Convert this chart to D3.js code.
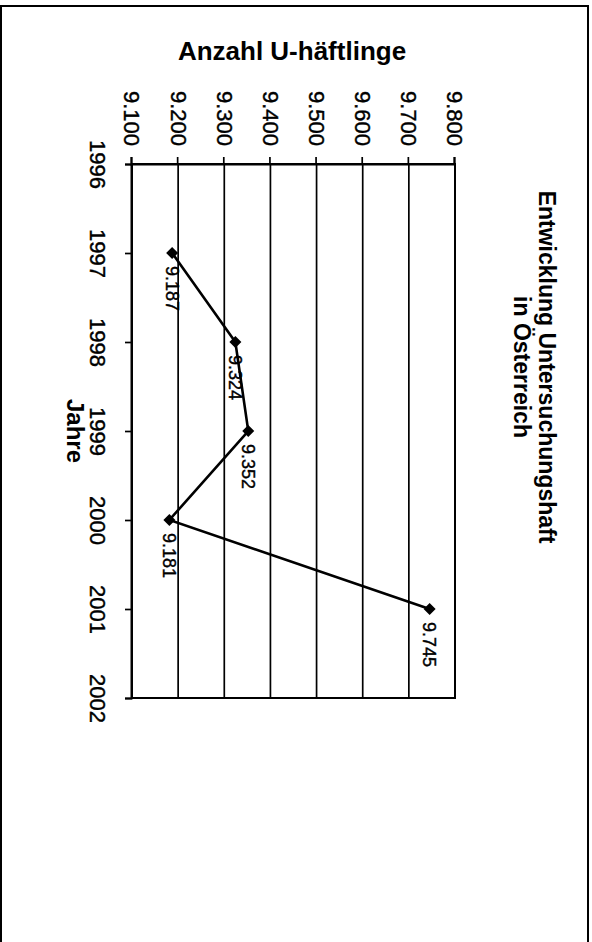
<!DOCTYPE html>
<html>
<head>
<meta charset="utf-8">
<script src="https://cdn.jsdelivr.net/npm/d3@7"></script>
<style>
  body { margin: 0; background: #fff; }
  svg { display: block; font-family: "Liberation Sans", Arial, sans-serif; }
</style>
</head>
<body>
<svg id="chart" width="592" height="942"></svg>
<script>
// data
const years = [1997, 1998, 1999, 2000, 2001];
const inmates = [9187, 9324, 9352, 9181, 9745];
const yearTicks = [1996, 1997, 1998, 1999, 2000, 2001, 2002];
const valueTicks = [9100, 9200, 9300, 9400, 9500, 9600, 9700, 9800];

const data = years.map((y, i) => ({ year: y, value: inmates[i] }));

const de = d3.formatLocale({ decimal: ",", thousands: ".", grouping: [3], currency: ["", " €"] });
const fmt = de.format(",");

const svg = d3.select("#chart");

// outer frame
svg.append("rect")
  .attr("x", 1).attr("y", 6)
  .attr("width", 587).attr("height", 960)
  .attr("fill", "none")
  .attr("stroke", "#000")
  .attr("stroke-width", 2);

// the whole chart is printed turned by 90 degrees
const plotW = 534, plotH = 323;
const g = svg.append("g").attr("transform", "translate(455,164) rotate(90)");

const x = d3.scaleLinear().domain([1996, 2002]).range([0, plotW]);
const y = d3.scaleLinear().domain([9100, 9800]).range([plotH, 0]);

// gridlines
g.append("g")
  .selectAll("line")
  .data(valueTicks)
  .join("line")
  .attr("x1", 0).attr("x2", plotW)
  .attr("y1", d => y(d)).attr("y2", d => y(d))
  .attr("stroke", "#000")
  .attr("stroke-width", 1.7);

g.append("rect")
  .attr("width", plotW).attr("height", plotH)
  .attr("fill", "none")
  .attr("stroke", "#000")
  .attr("stroke-width", 2);

// axes
const xAxis = g.append("g")
  .attr("transform", `translate(0,${plotH})`)
  .call(d3.axisBottom(x).tickValues(yearTicks).tickFormat(d3.format("d")).tickSize(7).tickPadding(19));

const yAxis = g.append("g")
  .call(d3.axisLeft(y).tickValues(valueTicks).tickFormat(fmt).tickSize(7).tickPadding(11));

[xAxis, yAxis].forEach(a => {
  a.select(".domain").attr("stroke", "#000").attr("stroke-width", 2);
  a.selectAll(".tick line").attr("stroke", "#000").attr("stroke-width", 1.7);
  a.selectAll(".tick text")
    .attr("fill", "#000")
    .attr("stroke", "#000")
    .attr("stroke-width", 0.4)
    .style("font-size", "22px");
});

// line + markers
const line = d3.line().x(d => x(d.year)).y(d => y(d.value));

g.append("path")
  .datum(data)
  .attr("d", line)
  .attr("fill", "none")
  .attr("stroke", "#000")
  .attr("stroke-width", 2.6);

g.selectAll(".pt")
  .data(data)
  .join("path")
  .attr("class", "pt")
  .attr("d", d3.symbol(d3.symbolSquare, 72))
  .attr("transform", d => `translate(${x(d.year)},${y(d.value)}) rotate(45)`)
  .attr("fill", "#000");

g.selectAll(".lbl")
  .data(data)
  .join("text")
  .attr("class", "lbl")
  .attr("x", d => x(d.year) + 13)
  .attr("y", d => y(d.value))
  .attr("dy", "0.35em")
  .attr("stroke", "#000")
  .attr("stroke-width", 0.4)
  .style("font-size", "18px")
  .text(d => fmt(d.value));

// titles
g.append("text")
  .attr("x", 203).attr("y", -92)
  .attr("dy", "0.35em")
  .attr("text-anchor", "middle")
  .style("font-size", "23px")
  .style("font-weight", "bold")
  .text("Entwicklung Untersuchungshaft");

g.append("text")
  .attr("x", 203).attr("y", -67)
  .attr("dy", "0.35em")
  .attr("text-anchor", "middle")
  .style("font-size", "23px")
  .style("font-weight", "bold")
  .text("in Österreich");

g.append("text")
  .attr("x", plotW / 2).attr("y", 380)
  .attr("dy", "0.35em")
  .attr("text-anchor", "middle")
  .style("font-size", "24px")
  .style("font-weight", "bold")
  .text("Jahre");

svg.append("text")
  .attr("x", 292).attr("y", 60)
  .attr("text-anchor", "middle")
  .style("font-size", "26px")
  .style("font-weight", "bold")
  .text("Anzahl U-häftlinge");
</script>
</body>
</html>
